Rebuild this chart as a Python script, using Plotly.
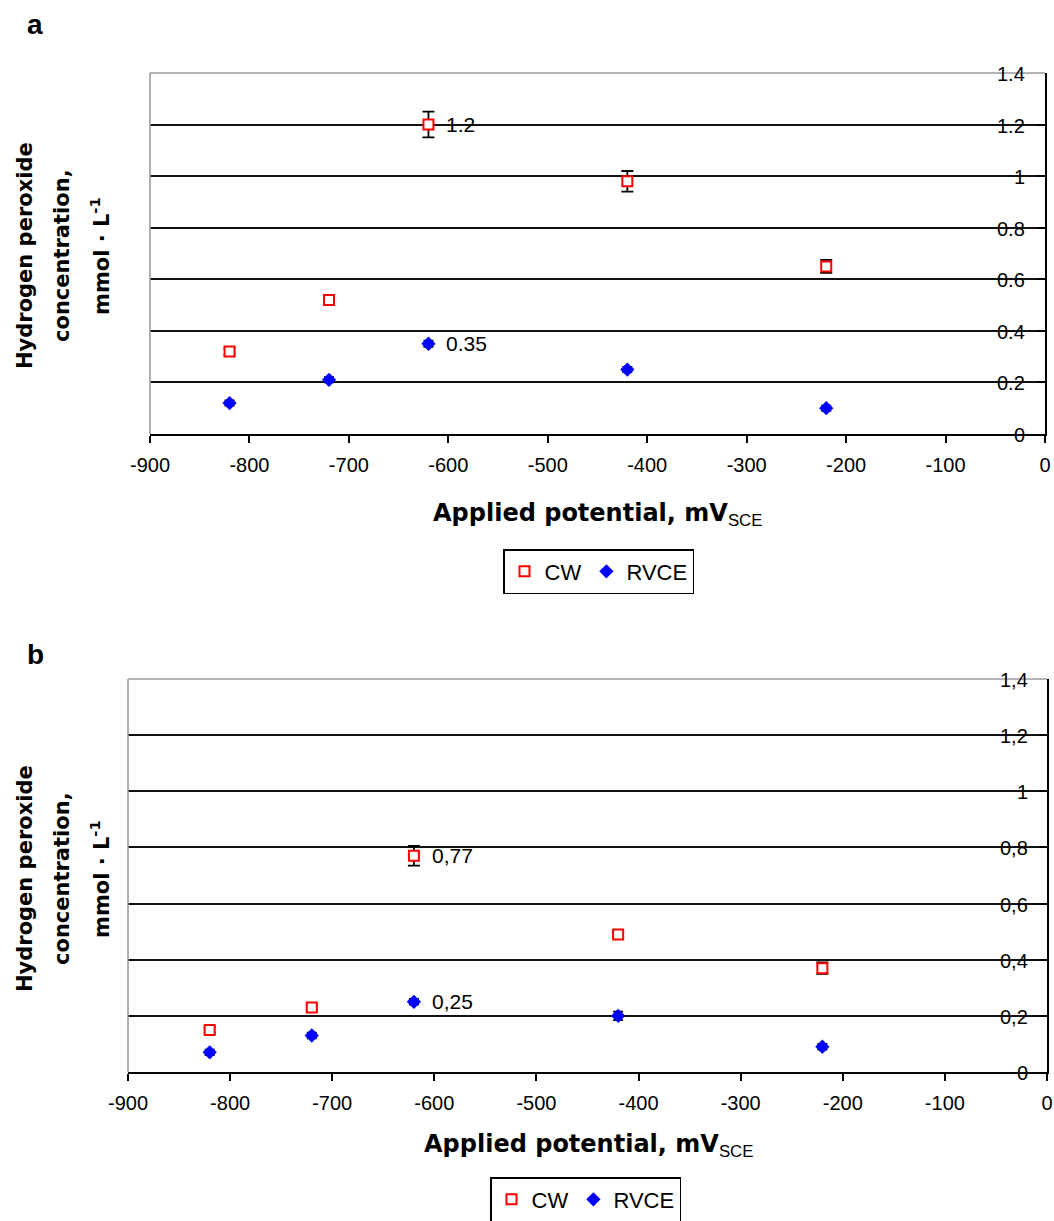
import plotly.graph_objects as go

# Applied potential (mV vs SCE) at which each electrolysis was run
potential = [-820, -720, -620, -420, -220]

# Panel a: hydrogen peroxide concentration, mmol/L
a_cw = [0.32, 0.52, 1.20, 0.98, 0.65]
a_cw_err = [0.012, 0.015, 0.05, 0.04, 0.025]
a_rvce = [0.12, 0.21, 0.35, 0.25, 0.10]
a_rvce_err = [0.01, 0.01, 0.012, 0.01, 0.01]

# Panel b: hydrogen peroxide concentration, mmol/L
b_cw = [0.15, 0.23, 0.77, 0.49, 0.37]
b_cw_err = [0.01, 0.01, 0.035, 0.01, 0.02]
b_rvce = [0.07, 0.13, 0.25, 0.20, 0.09]
b_rvce_err = [0.01, 0.01, 0.01, 0.015, 0.01]

# Points that carry a value label (index into the lists above)
labelled_index = 2

x_ticks = [-900, -800, -700, -600, -500, -400, -300, -200, -100, 0]
x_ticktext = [str(v) for v in x_ticks]
y_ticks = [0, 0.2, 0.4, 0.6, 0.8, 1.0, 1.2, 1.4]
y_ticktext_a = ["0", "0.2", "0.4", "0.6", "0.8", "1", "1.2", "1.4"]
y_ticktext_b = [t.replace(".", ",") for t in y_ticktext_a]

W, H = 1054, 1221


def fx(px):
    return px / W


def fy(px):
    return 1 - px / H


SANS = "Liberation Sans, Arial, sans-serif"
BOLD_TITLE = "DejaVu Sans, Verdana, sans-serif"
RED = "#FF0000"
BLUE = "#0000FF"

fig = go.Figure()


def add_series(xref, yref, legend, cw, cw_err, rvce, rvce_err):
    fig.add_trace(go.Scatter(
        x=potential, y=cw, mode="markers", name="CW",
        xaxis=xref, yaxis=yref, legend=legend,
        marker=dict(symbol="square", size=10, color="white",
                    line=dict(color=RED, width=2)),
        error_y=dict(type="data", array=cw_err, visible=True,
                     color="black", thickness=1.8, width=6),
    ))
    fig.add_trace(go.Scatter(
        x=potential, y=rvce, mode="markers", name="RVCE",
        xaxis=xref, yaxis=yref, legend=legend,
        marker=dict(symbol="diamond", size=11, color=BLUE,
                    line=dict(color=BLUE, width=0)),
        error_y=dict(type="data", array=rvce_err, visible=True,
                     color="black", thickness=1.8, width=5),
    ))


add_series("x", "y", "legend", a_cw, a_cw_err, a_rvce, a_rvce_err)
add_series("x2", "y2", "legend2", b_cw, b_cw_err, b_rvce, b_rvce_err)


def x_axis(domain, anchor):
    return dict(
        domain=domain, anchor=anchor, range=[-900, 0],
        tickmode="array", tickvals=x_ticks, ticktext=x_ticktext,
        ticks="outside", ticklen=7, tickwidth=1.5, tickcolor="black",
        ticklabelstandoff=5,
        showline=True, linecolor="black", linewidth=2,
        showgrid=False, zeroline=False,
        tickfont=dict(family=SANS, size=20, color="black"),
    )


def y_axis(domain, anchor):
    return dict(
        domain=domain, anchor=anchor, side="right", range=[0, 1.4],
        tickmode="array", tickvals=y_ticks,
        ticks="inside", ticklen=8, tickwidth=1.5, tickcolor="black",
        showticklabels=False,
        showline=True, linecolor="black", linewidth=2,
        showgrid=True, gridcolor="#111111", gridwidth=1.6,
        zeroline=False,
    )


legend_style = dict(
    orientation="h", xanchor="left", yanchor="top",
    bgcolor="white", bordercolor="black", borderwidth=1.5,
    font=dict(family=SANS, size=22, color="black"),
    itemwidth=30, tracegroupgap=0,
)

fig.update_layout(
    width=W, height=H,
    margin=dict(l=0, r=0, t=0, b=0, autoexpand=False),
    paper_bgcolor="white", plot_bgcolor="white",
    xaxis=x_axis([fx(150), fx(1045)], "y"),
    yaxis=y_axis([fy(434), fy(73)], "x"),
    xaxis2=x_axis([fx(128), fx(1047)], "y2"),
    yaxis2=y_axis([fy(1072), fy(679)], "x2"),
    legend=dict(x=fx(503), y=fy(549), **legend_style),
    legend2=dict(x=fx(490), y=fy(1177), **legend_style),
    showlegend=True,
)

# Grey plot-area border on the top and left edges
for xr, yr in (("x", "y"), ("x2", "y2")):
    for x0, y0, x1, y1 in ((0, 1, 1, 1), (0, 0, 0, 1)):
        fig.add_shape(type="line", xref=f"{xr} domain", yref=f"{yr} domain",
                      x0=x0, y0=y0, x1=x1, y1=y1, layer="above",
                      line=dict(color="#9a9a9a", width=1.6))

annotations = []

# Y tick labels sit just inside the right-hand axis, over the gridlines
for xr, yr, labels, shift in (("x", "y", y_ticktext_a, -18), ("x2", "y2", y_ticktext_b, -17)):
    for val, lab in zip(y_ticks, labels):
        annotations.append(dict(text=lab, x=1, y=val, xref=f"{xr} domain", yref=yr,
                                xanchor="right", yanchor="middle", xshift=shift, yshift=-1,
                                showarrow=False,
                                font=dict(family=SANS, size=20, color="black")))

# Panel letters
annotations.append(dict(text="<b>a</b>", x=fx(25), y=fy(24), xref="paper", yref="paper",
                        xanchor="left", yanchor="middle", showarrow=False,
                        font=dict(family=SANS, size=28, color="black")))
annotations.append(dict(text="<b>b</b>", x=fx(25), y=fy(654), xref="paper", yref="paper",
                        xanchor="left", yanchor="middle", showarrow=False,
                        font=dict(family=SANS, size=28, color="black")))

# Y-axis titles (three stacked rotated lines)
y_title_lines = ["Hydrogen peroxide", "concentration,", "mmol · L<sup>-1</sup>"]
for cy in (256, 879):
    for cx, line in zip((25, 62, 100), y_title_lines):
        annotations.append(dict(text=f"<b>{line}</b>", x=fx(cx), y=fy(cy),
                                xref="paper", yref="paper", textangle=-90,
                                xanchor="center", yanchor="middle", showarrow=False,
                                font=dict(family=BOLD_TITLE, size=21, color="black")))

# X-axis titles
x_title = ("<b>Applied potential, mV</b>"
           "<sub><span style='font-family:Liberation Sans, Arial;font-weight:normal'>SCE</span></sub>")
for cx, cy in ((597, 514), (588, 1145)):
    annotations.append(dict(text=x_title, x=fx(cx), y=fy(cy), xref="paper", yref="paper",
                            xanchor="center", yanchor="middle", showarrow=False,
                            font=dict(family=BOLD_TITLE, size=24, color="black")))

# Value labels next to the highlighted points
for xr, yr, series, decimal in (("x", "y", (a_cw, a_rvce), "."),
                                 ("x2", "y2", (b_cw, b_rvce), ",")):
    for vals in series:
        v = vals[labelled_index]
        txt = f"{v:g}".replace(".", decimal)
        annotations.append(dict(text=txt, x=potential[labelled_index], y=v,
                                xref=xr, yref=yr, xanchor="left", yanchor="middle",
                                xshift=16, showarrow=False,
                                font=dict(family=SANS, size=21, color="black")))

fig.update_layout(annotations=annotations)

fig.write_html("out.html")
